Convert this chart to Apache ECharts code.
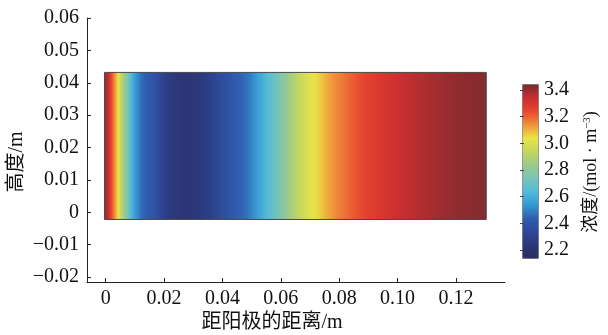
<!DOCTYPE html>
<html><head><meta charset="utf-8">
<script src="https://cdn.jsdelivr.net/npm/echarts@6/dist/echarts.min.js"></script>
<style>html,body{margin:0;padding:0;background:#fff}#c{width:608px;height:335px}</style>
</head><body><div id="c"></div>
<script>
// concentration profile along the distance from the anode (m -> mol/m^3)
const xPos = [0.0000,0.0008,0.0015,0.0022,0.0029,0.0036,0.0042,0.0049,0.0056,0.0066,
  0.0077,0.0087,0.0097,0.0108,0.0121,0.0138,0.0159,0.0179,0.0200,0.0221,
  0.0248,0.0275,0.0303,0.0330,0.0361,0.0385,0.0412,0.0440,0.0467,0.0488,
  0.0505,0.0519,0.0536,0.0553,0.0573,0.0597,0.0621,0.0645,0.0669,0.0693,
  0.0714,0.0734,0.0758,0.0786,0.0816,0.0851,0.0888,0.0929,0.0974,0.1025,
  0.1077,0.1128,0.1180,0.1231,0.1282];
const conc = [3.39,3.35,3.29,3.22,3.16,3.10,3.04,2.97,2.90,2.82,
  2.72,2.64,2.57,2.52,2.47,2.43,2.40,2.36,2.30,2.26,
  2.24,2.23,2.24,2.26,2.30,2.34,2.38,2.42,2.45,2.48,
  2.52,2.56,2.60,2.65,2.70,2.76,2.83,2.90,2.96,3.01,
  3.04,3.07,3.11,3.15,3.18,3.22,3.26,3.29,3.32,3.35,
  3.37,3.39,3.41,3.42,3.43];
const domainX = [-0.0004, 0.1303];
const domainY = [-0.0022, 0.0432];
const xTicks = [0, 0.02, 0.04, 0.06, 0.08, 0.10, 0.12];
const yTicks = [-0.02, -0.01, 0, 0.01, 0.02, 0.03, 0.04, 0.05, 0.06];
const barTicks = [2.2, 2.4, 2.6, 2.8, 3.0, 3.2, 3.4];
const barRange = [2.14, 3.445];
const palette = ['#2a2b60','#2c3778','#2e4898','#305eb0','#349ad4','#52bad8','#78c4b8',
  '#9cca88','#c4d660','#eae446','#f0903a','#e8462f','#c82e30','#7a2a2e'];

const FONT = '"Liberation Serif", "Noto Sans CJK SC", serif';
// each cell: [previous sample x, sample x, next sample x (or domain end), value]
const cells = xPos.map((x, i) => [
  i === 0 ? null : xPos[i - 1],
  i === 0 ? domainX[0] : x,
  i === xPos.length - 1 ? domainX[1] : xPos[i + 1],
  conc[i]
]);
const fmt = v => v === 0 ? '0' : (v < 0 ? '\u2212' + Math.abs(v).toFixed(2) : v.toFixed(2));

const chart = echarts.init(document.getElementById('c'));
chart.setOption({
  animation: false,
  backgroundColor: '#fff',
  grid: [
    {left: 87, top: 18, width: 418, height: 264},
    {left: 522, top: 84, width: 16, height: 174}
  ],
  xAxis: [
    {type: 'value', gridIndex: 0, min: -0.0064, max: 0.1368,
     axisLine: {onZero: false, lineStyle: {color: '#222', width: 1}},
     axisTick: {inside: true, length: 4, customValues: xTicks, lineStyle: {color: '#222'}},
     axisLabel: {customValues: xTicks, formatter: fmt, color: '#111', fontSize: 20, fontFamily: FONT, margin: 7},
     splitLine: {show: false}},
    {type: 'value', gridIndex: 1, min: 0, max: 1, show: false}
  ],
  yAxis: [
    {type: 'value', gridIndex: 0, min: -0.0215, max: 0.06,
     axisLine: {show: true, onZero: false, lineStyle: {color: '#222', width: 1}},
     axisTick: {show: true, inside: true, length: 4, customValues: yTicks, lineStyle: {color: '#222'}},
     axisLabel: {customValues: yTicks, formatter: fmt, color: '#111', fontSize: 20, fontFamily: FONT, margin: 8},
     splitLine: {show: false}},
    {type: 'value', gridIndex: 1, position: 'right', min: barRange[0], max: barRange[1], z: 10,
     axisLine: {show: false},
     axisTick: {show: true, inside: true, length: 2, customValues: barTicks, lineStyle: {color: '#444'}},
     axisLabel: {customValues: barTicks, formatter: v => v.toFixed(1), color: '#111', fontSize: 20, fontFamily: FONT, margin: 6},
     splitLine: {show: false}},
    {type: 'value', gridIndex: 1, position: 'left', min: barRange[0], max: barRange[1], z: 10,
     axisLine: {show: false},
     axisTick: {show: true, inside: true, length: 2, customValues: barTicks, lineStyle: {color: '#444'}},
     axisLabel: {show: false}, splitLine: {show: false}}
  ],
  visualMap: {
    type: 'continuous', seriesIndex: 0, dimension: 3,
    min: barRange[0], max: barRange[1], calculable: false, hoverLink: false,
    orient: 'vertical', left: 522, top: 84, itemWidth: 16, itemHeight: 174,
    padding: 0, borderWidth: 1, borderColor: '#777', text: null,
    inRange: {color: palette}
  },
  series: [
    {type: 'custom', xAxisIndex: 0, yAxisIndex: 0, data: cells,
     encode: {x: [1, 2]},
     renderItem: function (params, api) {
       const c = api.visual('color');
       const top = api.coord([api.value(1), domainY[1]])[1];
       const bot = api.coord([api.value(1), domainY[0]])[1];
       const xs = api.coord([api.value(1), domainY[0]])[0];
       const xe = api.coord([api.value(2), domainY[0]])[0];
       const children = [{type: 'rect', shape: {x: xs, y: top, width: xe - xs + 0.6, height: bot - top},
                          style: {fill: c}}];
       if (params.dataIndex > 0) {
         const xp = api.coord([api.value(0), domainY[0]])[0];
         children.push({type: 'rect', shape: {x: xp, y: top, width: xs - xp + 0.3, height: bot - top},
           style: {fill: {type: 'linear', x: 0, y: 0, x2: 1, y2: 0, global: false,
             colorStops: [{offset: 0, color: echarts.color.modifyAlpha(c, 0)}, {offset: 1, color: c}]}}});
       }
       return {type: 'group', children: children};
     }},
    {type: 'custom', xAxisIndex: 0, yAxisIndex: 0, data: [[domainX[0], domainX[1]]],
     encode: {x: [0, 1]}, z: 5,
     renderItem: function (params, api) {
       const p0 = api.coord([api.value(0), domainY[1]]);
       const p1 = api.coord([api.value(1), domainY[0]]);
       return {type: 'rect', shape: {x: p0[0], y: p0[1], width: p1[0] - p0[0], height: p1[1] - p0[1]},
               style: {fill: null, stroke: '#4a4a4a', lineWidth: 1}};
     }}
  ],
  graphic: [
    {type: 'text', x: 17, y: 162, rotation: Math.PI / 2,
     style: {text: '高度/m', font: '20px ' + FONT, fill: '#111', align: 'center', verticalAlign: 'middle'}},
    {type: 'text', x: 272, y: 323,
     style: {text: '距阳极的距离/m', font: '20px ' + FONT, fill: '#111', align: 'center', verticalAlign: 'middle'}},
    {type: 'text', x: 591, y: 172, rotation: Math.PI / 2,
     style: {text: '浓度/(mol · m{s|\u22123})', fontSize: 18, fontFamily: FONT, fill: '#111',
             align: 'center', verticalAlign: 'middle',
             rich: {s: {fontSize: 11, fontFamily: FONT, fill: '#111', verticalAlign: 'top', lineHeight: 18}}}}
  ]
});
</script>
</body></html>
